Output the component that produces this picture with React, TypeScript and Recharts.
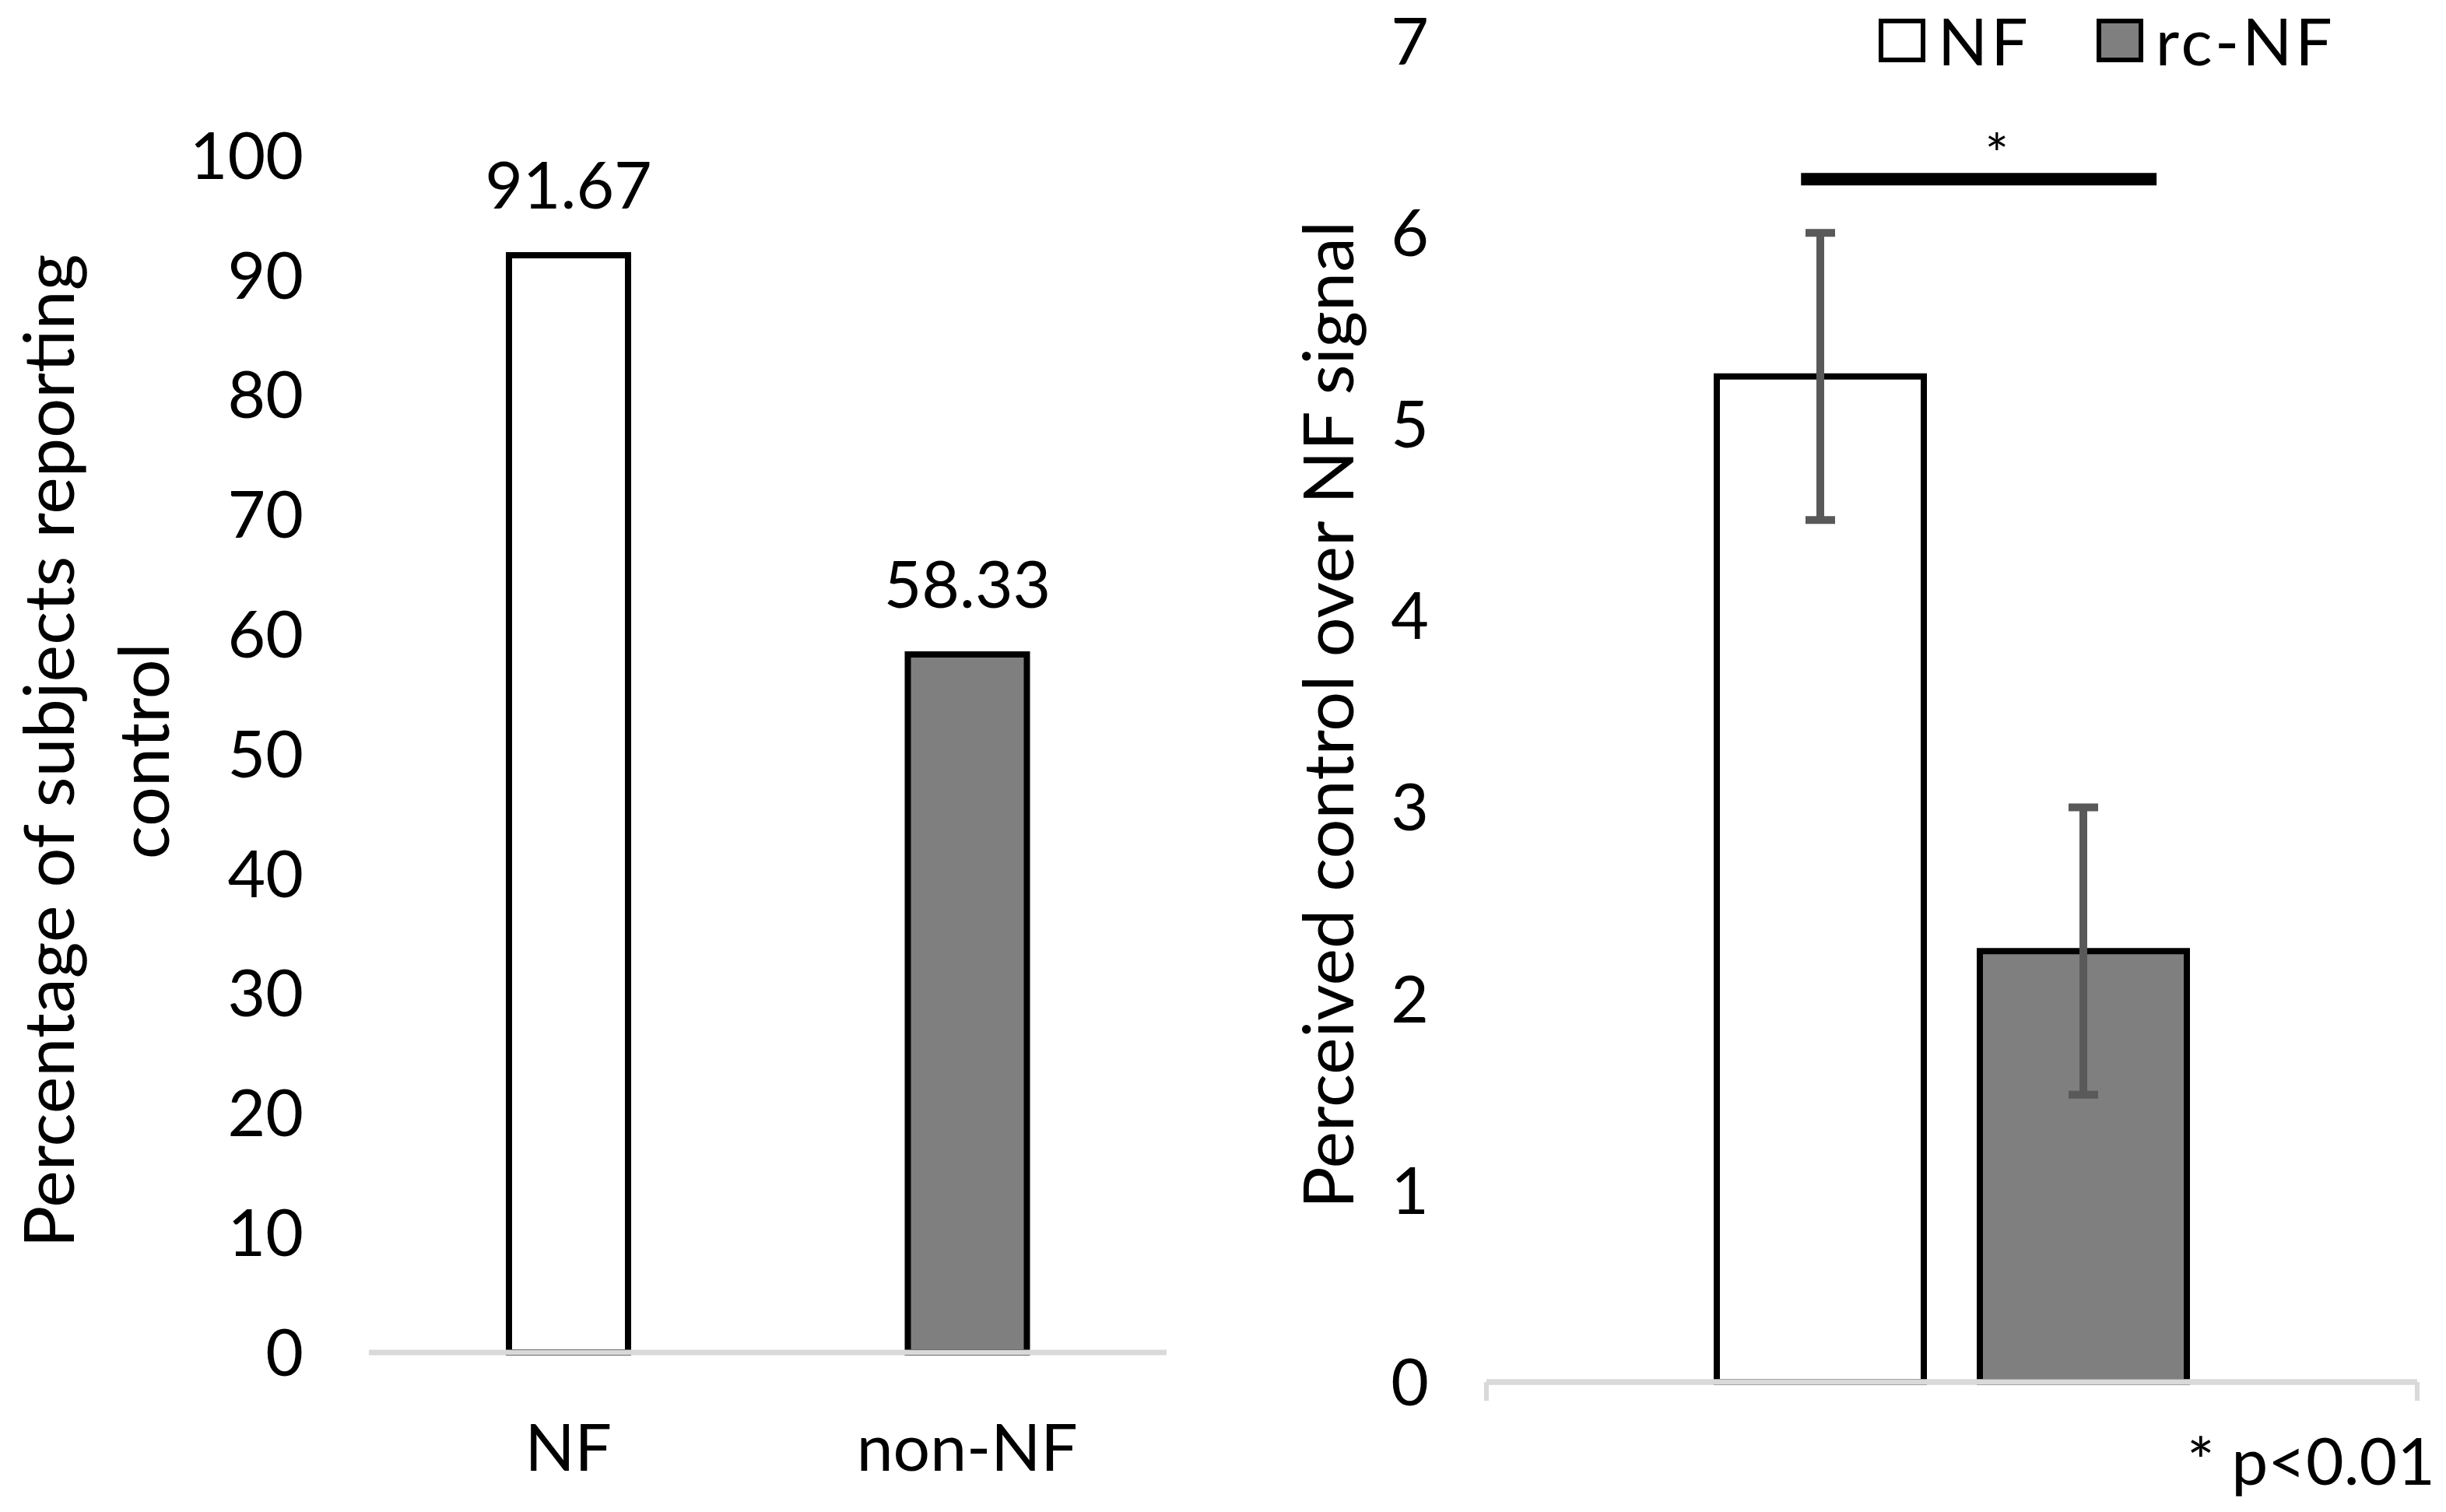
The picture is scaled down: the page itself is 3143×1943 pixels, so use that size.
import React from "react";
import {
  BarChart,
  Bar,
  XAxis,
  YAxis,
  Cell,
  LabelList,
  ErrorBar,
  ReferenceLine,
  Legend,
} from "recharts";

// left panel: share of subjects reporting control
const leftCategories = ["NF", "non-NF"];
const leftPercent = [91.67, 58.33];
const leftTicks = [0, 10, 20, 30, 40, 50, 60, 70, 80, 90, 100];

// right panel: perceived control, mean and error
const rightGroups = ["NF", "rc-NF"];
const rightMeans = [5.25, 2.25];
const rightErrors = [0.75, 0.75];
const rightTicks = [0, 1, 2, 3, 4, 5, 6, 7];

const FONT = "Lato, 'Noto Sans', sans-serif";
const TEXT_SIZE = 84;
const TITLE_SIZE = 90;
const AXIS_GRAY = "#d9d9d9";
const groupFills = ["#ffffff", "#7f7f7f"];

// significance bracket: share of the plot width it spans, height in data units
const SIG_FROM = 0.338;
const SIG_TO = 0.72;
const SIG_Y = 6.28;

const leftData = leftCategories.map((name, i) => ({ name, value: leftPercent[i] }));

const rightRow: Record<string, number | string> = { name: "" };
rightGroups.forEach((g, i) => {
  rightRow[g] = rightMeans[i];
  rightRow[g + "_err"] = rightErrors[i];
});
const rightData = [rightRow];

const tickStyle = { fill: "#000", fontSize: TEXT_SIZE, fontFamily: FONT };

const LeftTitle = (props: any) => {
  const vb = props.viewBox || { x: 0, y: 200, width: 474, height: 1538 };
  const cx = vb.x + 121;
  const cy = vb.y + vb.height / 2 - 4;
  return (
    <text
      transform={`rotate(-90 ${cx} ${cy})`}
      x={cx}
      y={cy}
      textAnchor="middle"
      dominantBaseline="central"
      fill="#000"
      fontSize={TITLE_SIZE}
      fontFamily={FONT}
    >
      <tspan x={cx} y={cy - 61}>Percentage of subjects reporting</tspan>
      <tspan x={cx} y={cy + 61}>control</tspan>
    </text>
  );
};

const RightTitle = (props: any) => {
  const vb = props.viewBox || { x: 0, y: 53, width: 310, height: 1723 };
  const cx = vb.x + 104;
  const cy = vb.y + vb.height / 2 + 4;
  return (
    <text
      transform={`rotate(-90 ${cx} ${cy})`}
      x={cx}
      y={cy}
      textAnchor="middle"
      dominantBaseline="central"
      fill="#000"
      fontSize={TITLE_SIZE}
      fontFamily={FONT}
    >
      Perceived control over NF signal
    </text>
  );
};

// horizontal bar with the asterisk, drawn on a y reference line
const SigBar = (props: any) => {
  const { x1, x2, y1 } = props;
  if (x1 == null || y1 == null) return null;
  const w = x2 - x1;
  const a = x1 + SIG_FROM * w;
  const b = x1 + SIG_TO * w;
  return (
    <g>
      <line x1={a} x2={b} y1={y1} y2={y1} stroke="#000" strokeWidth={16} />
      <text x={(a + b) / 2 + 23} y={y1 - 6} textAnchor="middle" fill="#000" fontSize={72} fontFamily={FONT}>
        *
      </text>
    </g>
  );
};

// grey baseline with the small end ticks of the right panel
const Baseline = (props: any) => {
  const { x1, x2, y1, ends } = props;
  if (x1 == null || y1 == null) return null;
  return (
    <g>
      <line x1={x1} x2={x2} y1={y1} y2={y1} stroke={AXIS_GRAY} strokeWidth={7} />
      {ends &&
        [x1, x2].map((x: number) => (
          <line key={x} x1={x} x2={x} y1={y1} y2={y1 + 24} stroke={AXIS_GRAY} strokeWidth={6} />
        ))}
    </g>
  );
};

const LegendContent = (props: any) => {
  const payload = props.payload || [];
  return (
    <div style={{ display: "flex", alignItems: "center", fontFamily: FONT, fontSize: TEXT_SIZE, lineHeight: 1, color: "#000" }}>
      {payload.map((entry: any, i: number) => (
        <div key={entry.value} style={{ display: "flex", alignItems: "center", marginLeft: i ? 84 : 0 }}>
          <span
            style={{
              display: "inline-block",
              width: 60,
              height: 56,
              boxSizing: "border-box",
              border: "6px solid #000",
              background: groupFills[rightGroups.indexOf(entry.value)] || entry.color,
              marginRight: 16,
            }}
          />
          <span style={{ letterSpacing: 4 }}>{entry.value}</span>
        </div>
      ))}
    </div>
  );
};

const LeftPanel = () => (
  <BarChart
    width={1600}
    height={1943}
    data={leftData}
    margin={{ top: 200, right: 101, bottom: 0, left: 0 }}
  >
    <XAxis
      dataKey="name"
      height={205}
      axisLine={{ stroke: AXIS_GRAY, strokeWidth: 6 }}
      tickLine={false}
      tickMargin={86}
      tick={tickStyle}
    />
    <YAxis
      width={474}
      domain={[0, 100]}
      ticks={leftTicks}
      axisLine={false}
      tickLine={false}
      tickMargin={78}
      tick={tickStyle}
      label={<LeftTitle />}
    />
    <Bar dataKey="value" barSize={153} stroke="#000" strokeWidth={8} isAnimationActive={false}>
      {leftData.map((d, i) => (
        <Cell key={d.name} fill={groupFills[i]} />
      ))}
      <LabelList dataKey="value" position="top" offset={60} fill="#000" fontSize={TEXT_SIZE} fontFamily={FONT} />
    </Bar>
    <ReferenceLine y={0} shape={<Baseline ends={false} />} />
  </BarChart>
);

const RightPanel = () => (
  <BarChart
    width={1543}
    height={1943}
    data={rightData}
    barGap={72}
    margin={{ top: 53, right: 37, bottom: 0, left: 0 }}
  >
    <XAxis
      dataKey="name"
      height={167}
      axisLine={{ stroke: AXIS_GRAY, strokeWidth: 7 }}
      tickLine={false}
      tick={false}
    />
    <YAxis
      width={310}
      domain={[0, 7]}
      ticks={rightTicks}
      axisLine={false}
      tickLine={false}
      tickMargin={68}
      tick={tickStyle}
      label={<RightTitle />}
    />
    <Legend
      layout="horizontal"
      verticalAlign="middle"
      align="center"
      content={<LegendContent />}
      wrapperStyle={{ top: 10, left: 814, width: 700, height: 84 }}
    />
    {rightGroups.map((g, i) => (
      <Bar
        key={g}
        dataKey={g}
        name={g}
        fill={groupFills[i]}
        stroke="#000"
        strokeWidth={8}
        barSize={266}
        isAnimationActive={false}
      >
        <ErrorBar dataKey={g + "_err"} direction="y" width={19} strokeWidth={10} stroke="#595959" />
      </Bar>
    ))}
    <ReferenceLine y={0} shape={<Baseline ends />} />
    <ReferenceLine y={SIG_Y} shape={<SigBar />} />
  </BarChart>
);

export default function App() {
  return (
    <div style={{ position: "relative", width: 3143, height: 1943, background: "#fff", fontFamily: FONT }}>
      <style>{"body{margin:0}"}</style>
      <div style={{ position: "absolute", left: 0, top: 0 }}>
        <LeftPanel />
      </div>
      <div style={{ position: "absolute", left: 1600, top: 0 }}>
        <RightPanel />
      </div>
      <div
        style={{
          position: "absolute",
          right: 14,
          top: 1834,
          fontSize: TEXT_SIZE,
          lineHeight: 1,
          color: "#000",
          whiteSpace: "nowrap",
        }}
      >
        * p&lt;0.01
      </div>
    </div>
  );
}
